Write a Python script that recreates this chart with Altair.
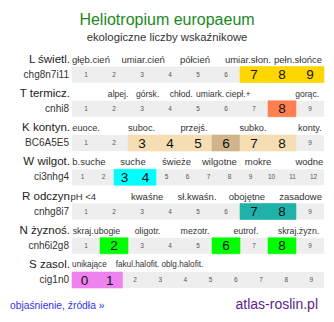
import altair as alt
import pandas as pd

# ---- data ----
title_text = "Heliotropium europaeum"
subtitle_text = "ekologiczne liczby wskaźnikowe"
footer_left = "objaśnienie, źródła »"
footer_right = "atlas-roslin.pl"

row_names = ["L świetl.", "T termicz.", "K kontyn.", "W wilgot.", "R odczyn", "N żyznoś.", "S zasol."]
row_codes = ["chg8n7i11", "cnhi8", "BC6A5E5", "ci3nhg4", "cnhg8i7", "cnh6i2g8", "cig1n0"]
row_first = [1, 1, 1, 1, 1, 1, 0]
row_last = [9, 9, 9, 12, 9, 9, 9]
row_high = [[7, 8, 9], [8], [3, 4, 5, 6, 7, 8], [3, 4], [7, 8], [2, 6, 8], [0, 1]]
row_peak = [[], [], [6], [], [], [], []]
row_color = ["#FFD700", "#FF7F50", "#F5DEB3", "#00FFFF", "#20B2AA", "#00FF00", "#EE82EE"]
peak_color = "#D2B48C"

head_L = ["głęb.cień", "umiar.cień", "półcień", "umiar.słon.", "pełn.słońce"]
head_L_pos = [0.075, 0.282, 0.488, 0.698, 0.897]
head_T = ["alpej.", "górsk.", "chłod.", "umiark.", "ciepł.+", "gorąc."]
head_T_pos = [0.183, 0.300, 0.433, 0.548, 0.659, 0.933]
head_K = ["euoce.", "suboc.", "przejś.", "subko.", "konty."]
head_K_pos = [0.056, 0.276, 0.484, 0.718, 0.944]
head_W = ["b.suche", "suche", "świeże", "wilgotne", "mokre", "wodne"]
head_W_pos = [0.067, 0.242, 0.415, 0.585, 0.738, 0.942]
head_R = ["pH <4", "kwaśne", "sł.kwaśn.", "obojętne", "zasadowe"]
head_R_pos = [0.045, 0.298, 0.496, 0.694, 0.907]
head_N = ["skraj.ubogie", "oligotr.", "mezotr.", "eutrof.", "skraj.żyzn."]
head_N_pos = [0.097, 0.300, 0.488, 0.690, 0.899]
head_S = ["unikające", "fakul.halofit.", "oblg.halofit."]
head_S_pos = [0.069, 0.260, 0.438]

heads = [head_L, head_T, head_K, head_W, head_R, head_N, head_S]
heads_pos = [head_L_pos, head_T_pos, head_K_pos, head_W_pos, head_R_pos, head_N_pos, head_S_pos]
head_size = [9.5, 8.6, 9.2, 9.5, 9.5, 8.8, 8.2]

# ---- tables ----
cells = []
for r in range(len(row_names)):
    n = row_last[r] - row_first[r] + 1
    for k, v in enumerate(range(row_first[r], row_last[r] + 1)):
        hi = v in row_high[r]
        fill = peak_color if v in row_peak[r] else (row_color[r] if hi else "#EEEEEE")
        cells.append(dict(row=r, val=str(v), x0=k / n, x1=(k + 1) / n,
                          xm=(k + 0.5) / n, hi=hi, fill=fill))
cells = pd.DataFrame(cells)

rows = pd.DataFrame(dict(row=list(range(len(row_names))), name=row_names,
                         code=row_codes, x0=[0.0] * 7, x1=[1.0] * 7))

hd = []
for r in range(len(heads)):
    for t, p in zip(heads[r], heads_pos[r]):
        hd.append(dict(row=r, text=t, pos=p, fs=head_size[r]))
hd = pd.DataFrame(hd)

xs = alt.Scale(domain=[0, 1], range=[72, 324])
ys = alt.Scale(domain=[0, 6], range=[69.5, 285])
FONT = "Liberation Sans"

bg = alt.Chart(rows).mark_bar(size=16, color="#EEEEEE").encode(
    x=alt.X("x0:Q", scale=xs, axis=None), x2="x1:Q",
    y=alt.Y("row:Q", scale=ys, axis=None))

colored = alt.Chart(cells).transform_filter("datum.hi").mark_bar(size=16, strokeWidth=0.6).encode(
    x=alt.X("x0:Q", scale=xs, axis=None), x2="x1:Q",
    y=alt.Y("row:Q", scale=ys, axis=None),
    fill=alt.Fill("fill:N", scale=None),
    stroke=alt.Stroke("fill:N", scale=None))

small_nums = alt.Chart(cells).transform_filter("!datum.hi").mark_text(
    font=FONT, fontSize=6.5, color="#555555", baseline="middle").encode(
    x=alt.X("xm:Q", scale=xs, axis=None), y=alt.Y("row:Q", scale=ys, axis=None),
    text="val:N")

big_nums = alt.Chart(cells).transform_filter("datum.hi").mark_text(
    font=FONT, fontSize=13.5, color="#111111", baseline="middle", dy=0.5).encode(
    x=alt.X("xm:Q", scale=xs, axis=None), y=alt.Y("row:Q", scale=ys, axis=None),
    text="val:N")

names = alt.Chart(rows).mark_text(font=FONT, fontSize=11.5, color="#222222",
                                  align="right", baseline="middle", dy=-15).encode(
    x=alt.value(70), y=alt.Y("row:Q", scale=ys, axis=None), text="name:N")

codes = alt.Chart(rows).mark_text(font=FONT, fontSize=10, color="#333333",
                                  align="right", baseline="middle").encode(
    x=alt.value(69), y=alt.Y("row:Q", scale=ys, axis=None), text="code:N")

heads_layer = alt.Chart(hd).mark_text(font=FONT, color="#333333",
                                      align="center", baseline="middle", dy=-15).encode(
    x=alt.X("pos:Q", scale=xs, axis=None), y=alt.Y("row:Q", scale=ys, axis=None),
    text="text:N", size=alt.Size("fs:Q", scale=None, legend=None))

one = pd.DataFrame(dict(t=[title_text]))
title = alt.Chart(pd.DataFrame(dict(t=[title_text]))).mark_text(
    font=FONT, fontSize=16, color="#228822", align="center", baseline="middle").encode(
    x=alt.value(167), y=alt.value(20), text="t:N")
subtitle = alt.Chart(pd.DataFrame(dict(t=[subtitle_text]))).mark_text(
    font=FONT, fontSize=11.3, color="#333333", align="center", baseline="middle").encode(
    x=alt.value(167), y=alt.value(38), text="t:N")
f_left = alt.Chart(pd.DataFrame(dict(t=[footer_left]))).mark_text(
    font=FONT, fontSize=10.3, color="#3333EE", align="left", baseline="middle").encode(
    x=alt.value(10), y=alt.value(306), text="t:N")
f_right = alt.Chart(pd.DataFrame(dict(t=[footer_right]))).mark_text(
    font=FONT, fontSize=14, color="#5A1E8C", align="right", baseline="middle").encode(
    x=alt.value(318), y=alt.value(305), text="t:N")

chart = alt.layer(bg, colored, small_nums, big_nums, names, codes, heads_layer,
                  title, subtitle, f_left, f_right).properties(
    width=334, height=322, padding=0,
    autosize=alt.AutoSizeParams(type="none"),
).configure_view(stroke=None)

chart.save("out.html", embed_options={"renderer": "svg", "actions": False})
